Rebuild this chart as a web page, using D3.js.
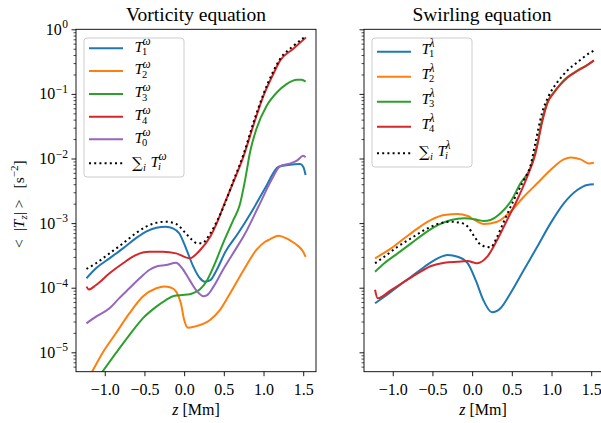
<!DOCTYPE html>
<html><head><meta charset="utf-8">
<script src="https://cdn.jsdelivr.net/npm/d3@7"></script>
<style>
body{margin:0;background:#fff}
svg{display:block}
svg text{font-family:"Liberation Serif","DejaVu Serif",serif}
</style>
</head><body>
<svg id="c" width="601" height="423"></svg>
<script>
// ---------- data: vorticity equation (left) ----------
const zT1w = [-1.23,-1.11,-0.94,-0.77,-0.61,-0.48,-0.35,-0.23,-0.14,-0.06,0.03,0.11,0.20,0.26,0.33,0.41,0.52,0.68,0.85,1.02,1.19,1.31,1.46,1.50,1.53];
const T1w  = [1.40e-4,2.0e-4,2.85e-4,4.07e-4,5.8e-4,7.4e-4,8.5e-4,8.8e-4,8.3e-4,6.9e-4,3.9e-4,2.2e-4,1.40e-4,1.24e-4,1.31e-4,1.88e-4,3.6e-4,6.95e-4,1.5e-3,3.46e-3,7.46e-3,7.94e-3,8.2e-3,7.46e-3,5.56e-3];
const zT2w = [-1.23,-1.16,-1.03,-0.86,-0.69,-0.52,-0.35,-0.25,-0.17,-0.10,-0.04,0.00,0.05,0.13,0.33,0.45,0.58,0.75,0.91,1.02,1.08,1.19,1.29,1.36,1.42,1.50,1.53];
const T2w  = [3.5e-6,5.0e-6,9.7e-6,1.97e-5,4.0e-5,7.3e-5,9.8e-5,1.04e-4,1.01e-4,8.7e-5,5.7e-5,3.2e-5,2.4e-5,2.5e-5,3.2e-5,4.5e-5,8.2e-5,1.88e-4,3.84e-4,5.15e-4,5.6e-4,6.4e-4,5.8e-4,5.15e-4,4.6e-4,3.6e-4,3.0e-4];
const zT3w = [-1.23,-1.03,-0.86,-0.69,-0.52,-0.35,-0.23,-0.12,-0.02,0.07,0.12,0.20,0.29,0.37,0.49,0.62,0.70,0.77,0.83,0.91,1.04,1.17,1.29,1.42,1.48,1.53];
const T3w  = [2.24e-6,5.0e-6,9.7e-6,1.85e-5,3.36e-5,5.1e-5,6.45e-5,7.5e-5,7.7e-5,7.9e-5,8.3e-5,9.5e-5,1.31e-4,2.11e-4,4.86e-4,1.12e-3,1.9e-3,4.8e-3,1.25e-2,2.86e-2,6.56e-2,0.106,0.142,0.166,0.166,0.155];
const zT4w = [-1.23,-1.20,-1.11,-0.94,-0.77,-0.61,-0.44,-0.27,-0.10,0.02,0.07,0.15,0.20,0.33,0.41,0.49,0.62,0.75,0.87,1.00,1.12,1.21,1.375,1.535];
const T4w  = [1.04e-4,9.4e-5,1.10e-4,1.67e-4,2.39e-4,3.2e-4,3.6e-4,3.6e-4,3.4e-4,2.95e-4,2.85e-4,3.3e-4,3.8e-4,6.2e-4,9.9e-4,1.76e-3,4.3e-3,1.10e-2,3.2e-2,9.4e-2,0.20,0.33,0.50,0.75];
const zT0w = [-1.23,-1.11,-0.94,-0.82,-0.69,-0.56,-0.44,-0.33,-0.23,-0.10,-0.04,0.07,0.15,0.24,0.29,0.37,0.49,0.60,0.77,0.935,1.10,1.21,1.31,1.42,1.50,1.53];
const T0w  = [2.8e-5,3.56e-5,4.8e-5,6.85e-5,9.8e-5,1.40e-4,1.88e-4,2.17e-4,2.24e-4,2.44e-4,2.11e-4,1.31e-4,9.2e-5,7.4e-5,7.7e-5,1.04e-4,1.9e-4,3.16e-4,6.95e-4,1.79e-3,4.65e-3,7.65e-3,8.2e-3,9.25e-3,1.10e-2,1.05e-2];
const zSumw = [-1.23,-1.11,-0.94,-0.77,-0.61,-0.48,-0.35,-0.23,-0.10,0.02,0.10,0.16,0.22,0.33,0.41,0.515,0.62,0.75,0.87,1.00,1.12,1.21,1.375,1.53];
const Sumw  = [1.95e-4,2.39e-4,3.4e-4,4.86e-4,6.95e-4,8.8e-4,1.01e-3,1.05e-3,9.7e-4,6.95e-4,5.5e-4,4.9e-4,4.86e-4,6.95e-4,1.05e-3,2.02e-3,4.5e-3,1.18e-2,3.5e-2,0.10,0.22,0.35,0.55,0.78];

// ---------- data: swirling equation (right) ----------
const zT1l = [-1.223,-1.106,-0.938,-0.769,-0.60,-0.434,-0.308,-0.182,-0.055,0.05,0.14,0.25,0.357,0.483,0.651,0.82,0.987,1.155,1.324,1.45,1.533];
const T1l  = [5.74e-5,7.26e-5,1.04e-4,1.48e-4,2.11e-4,2.85e-4,3.2e-4,3.02e-4,2.39e-4,1.26e-4,6.46e-5,4.16e-5,4.8e-5,8.2e-5,1.88e-4,4.3e-4,9.9e-4,2.02e-3,3.25e-3,3.9e-3,3.98e-3];
const zT2l = [-1.223,-1.021,-0.854,-0.686,-0.517,-0.349,-0.182,-0.055,0.029,0.147,0.315,0.483,0.651,0.82,0.987,1.155,1.24,1.366,1.47,1.533];
const T2l  = [2.85e-4,4.07e-4,5.82e-4,8.3e-4,1.12e-3,1.33e-3,1.38e-3,1.29e-3,1.12e-3,9.7e-4,1.05e-3,1.5e-3,2.56e-3,4.13e-3,6.64e-3,9.7e-3,1.04e-2,9.7e-3,8.4e-3,8.6e-3];
const zT3l = [-1.223,-1.106,-0.938,-0.769,-0.60,-0.434,-0.265,-0.097,0.07,0.15,0.23,0.357,0.483,0.609,0.735,0.82,0.883,0.946,1.03,1.113,1.198,1.324,1.45,1.533];
const T3l  = [1.77e-4,2.39e-4,3.4e-4,4.86e-4,6.95e-4,9.3e-4,1.12e-3,1.19e-3,1.12e-3,1.08e-3,1.12e-3,1.42e-3,2.14e-3,4.13e-3,7.24e-3,1.66e-2,4.08e-2,7.41e-2,0.106,0.142,0.181,0.229,0.28,0.327];
const zT4l = [-1.223,-1.19,-1.021,-0.854,-0.686,-0.517,-0.349,-0.182,-0.055,0.029,0.063,0.19,0.315,0.441,0.567,0.694,0.798,0.883,0.946,1.03,1.113,1.198,1.324,1.45,1.533];
const T4l  = [9.3e-5,6.85e-5,9.2e-5,1.24e-4,1.67e-4,2.17e-4,2.44e-4,2.53e-4,2.59e-4,2.43e-4,2.39e-4,3.02e-4,5.47e-4,1.12e-3,2.28e-3,5.22e-3,1.2e-2,3.72e-2,7.08e-2,0.104,0.14,0.178,0.226,0.279,0.331];
const zSuml = [-1.223,-1.106,-0.938,-0.769,-0.60,-0.434,-0.265,-0.144,-0.055,0.029,0.113,0.231,0.315,0.399,0.525,0.651,0.735,0.798,0.883,0.966,1.072,1.198,1.324,1.48,1.533];
const Suml  = [2.39e-4,3.02e-4,4.31e-4,5.82e-4,7.82e-4,9.7e-4,1.05e-3,1.01e-3,8.8e-4,6.17e-4,4.58e-4,4.22e-4,6.17e-4,1.05e-3,2.28e-3,4.65e-3,7.74e-3,1.78e-2,5.19e-2,9.38e-2,0.151,0.229,0.308,0.43,0.47];

// ---------- ticks / labels ----------
const xTicks = [-1.0,-0.5,0.0,0.5,1.0,1.5];
const xTickLabels = ["\u22121.0","\u22120.5","0.0","0.5","1.0","1.5"];
const yTickExps = [0,-1,-2,-3,-4,-5];
const titles = ["Vorticity equation","Swirling equation"];

// ---------- drawing ----------
const FONT = "Liberation Serif, DejaVu Serif, serif";
const svg = d3.select("#c");
const TOP = 29.3, BOT = 371.7;
const colors = {b:"#1f77b4",o:"#ff7f0e",g:"#2ca02c",r:"#d62728",p:"#9467bd",k:"#000"};

const panels = [
  {x0:76, x1:316, title:titles[0], sym:"\u03C9",
   series:[
     {z:zT1w,v:T1w,c:colors.b,lab:"1"},
     {z:zT2w,v:T2w,c:colors.o,lab:"2"},
     {z:zT3w,v:T3w,c:colors.g,lab:"3"},
     {z:zT4w,v:T4w,c:colors.r,lab:"4"},
     {z:zT0w,v:T0w,c:colors.p,lab:"0"},
     {z:zSumw,v:Sumw,c:colors.k,lab:"sum",dot:true}],
   legend:{x:84,y:38,w:100,h:139,rows:[48.3,71,94,116.7,139.3,163.3],tx:134.5,tOff:3.4}},
  {x0:364, x1:604, title:titles[1], sym:"\u03BB",
   series:[
     {z:zT1l,v:T1l,c:colors.b,lab:"1"},
     {z:zT2l,v:T2l,c:colors.o,lab:"2"},
     {z:zT3l,v:T3l,c:colors.g,lab:"3"},
     {z:zT4l,v:T4l,c:colors.r,lab:"4"},
     {z:zSuml,v:Suml,c:colors.k,lab:"sum",dot:true}],
   legend:{x:372,y:38,w:100,h:129,rows:[51.7,76.7,101.7,126.7,153.3],tx:421.5,tOff:2.2}}
];

const y = d3.scaleLog().domain([Math.pow(10,-5.3),1]).range([BOT,TOP]);
const majors = yTickExps.map(e=>Math.pow(10,e));
const minors = [];
for (let e=-6;e<0;e++) for (let k=2;k<=9;k++){const v=k*Math.pow(10,e); if(v>=y.domain()[0]&&v<=1) minors.push(v);}

panels.forEach((p,pi)=>{
  const x = d3.scaleLinear().domain([-1.362,1.661]).range([p.x0,p.x1]);
  const g = svg.append("g").attr("font-family",FONT);
  const cid = "clip"+pi;
  svg.append("clipPath").attr("id",cid).append("rect")
     .attr("x",p.x0).attr("y",TOP).attr("width",p.x1-p.x0).attr("height",BOT-TOP);

  const line = d3.line().x(d=>x(d[0])).y(d=>y(d[1])).curve(d3.curveMonotoneX);
  const lg = g.append("g").attr("clip-path",`url(#${cid})`);
  p.series.forEach(s=>{
    const pts = s.z.map((z,i)=>[z,s.v[i]]);
    lg.append("path").attr("d",line(pts)).attr("fill","none")
      .attr("stroke",s.c).attr("stroke-width",2)
      .attr("stroke-dasharray",s.dot?"2,3.2":null);
  });

  g.append("rect").attr("x",p.x0).attr("y",TOP).attr("width",p.x1-p.x0).attr("height",BOT-TOP)
    .attr("fill","none").attr("stroke","#000").attr("stroke-width",0.9);

  const xa = g.append("g").attr("transform",`translate(0,${BOT})`)
    .call(d3.axisBottom(x).tickValues(xTicks).tickFormat((d,i)=>xTickLabels[i]).tickSize(4.5).tickPadding(7.5));
  xa.attr("font-family",FONT).attr("font-size",16);
  xa.select(".domain").remove();
  xa.selectAll("line").attr("stroke-width",0.9);
  xa.selectAll("text").style("font-family",FONT).attr("font-size",16).attr("fill","#000");

  const ya = g.append("g").attr("transform",`translate(${p.x0},0)`)
    .call(d3.axisLeft(y).tickValues(majors).tickFormat("").tickSize(4.5));
  ya.select(".domain").remove();
  ya.selectAll("line").attr("stroke-width",0.9);
  const ym = g.append("g").attr("transform",`translate(${p.x0},0)`)
    .call(d3.axisLeft(y).tickValues(minors).tickFormat("").tickSize(2.5));
  ym.select(".domain").remove();
  ym.selectAll("line").attr("stroke-width",0.7);

  if (pi===0){
    yTickExps.forEach(e=>{
      const t = g.append("text").attr("x",68).attr("y",y(Math.pow(10,e))+5.5)
        .attr("text-anchor","end").attr("font-size",16).style("font-family",FONT);
      t.append("tspan").text("10");
      t.append("tspan").attr("dx",0.5).attr("dy",-6.5).attr("font-size",11.5).text(e===0?"0":"\u2212"+(-e));
    });
    const yl = svg.append("text").attr("transform","translate(24,248) rotate(-90)").attr("font-size",15.5).style("font-family",FONT);
    yl.append("tspan").text("<");
    yl.append("tspan").attr("dx",8).text("|");
    yl.append("tspan").attr("font-style","italic").text("T");
    yl.append("tspan").attr("font-style","italic").attr("font-size",11).attr("dy",3).text("z");
    yl.append("tspan").attr("dy",-3).text("|");
    yl.append("tspan").attr("dx",4).text(">");
    yl.append("tspan").attr("dx",11).text("[s");
    yl.append("tspan").attr("font-size",11).attr("dy",-6).text("\u22122");
    yl.append("tspan").attr("dy",6).text("]");
  }

  svg.append("text").attr("x",(p.x0+p.x1)/2 - (pi===1?2:0)).attr("y",20.5).attr("text-anchor","middle")
    .attr("font-size",19.5).style("font-family",FONT).text(p.title);
  const xl = svg.append("text").attr("x",(p.x0+p.x1)/2 - (pi===1?1:0)).attr("y",415).attr("text-anchor","middle").attr("font-size",16).style("font-family",FONT);
  xl.append("tspan").attr("font-style","italic").text("z");
  xl.append("tspan").text(" [Mm]");

  const L = p.legend;
  const leg = svg.append("g").style("font-family",FONT);
  leg.append("rect").attr("x",L.x).attr("y",L.y).attr("width",L.w).attr("height",L.h).attr("rx",3)
    .attr("fill","#fff").attr("fill-opacity",0.8).attr("stroke","#cccccc").attr("stroke-width",1);
  p.series.forEach((s,i)=>{
    const ry = L.rows[i];
    leg.append("line").attr("x1",L.x+5).attr("x2",L.x+39).attr("y1",ry).attr("y2",ry)
      .attr("stroke",s.c).attr("stroke-width",2).attr("stroke-dasharray",s.dot?"2,3.2":null);
    const bl = ry + L.tOff;
    let tx = L.tx;
    const T = (xx,yy,fs,txt,it)=>leg.append("text").attr("x",xx).attr("y",yy).attr("font-size",fs)
        .attr("font-style",it?"italic":null).style("font-family",FONT).text(txt);
    if (s.lab==="sum"){
      T(tx-2.5,bl+1,15,"\u2211",false).style("font-family","DejaVu Serif, serif");
      T(tx+8.5,bl+4.5,10.5,"i",true);
      tx += 16;
      T(tx,bl,15.5,"T",true);
      T(tx+8,bl-6.5,11.5,p.sym,true);
      T(tx+7.5,bl+3.5,10.5,"i",true);
    } else {
      T(tx,bl,15.5,"T",true);
      T(tx+8,bl-6.5,11.5,p.sym,true);
      T(tx+7.5,bl+3.5,10.5,s.lab,false);
    }
  });
});
</script>
</body></html>
